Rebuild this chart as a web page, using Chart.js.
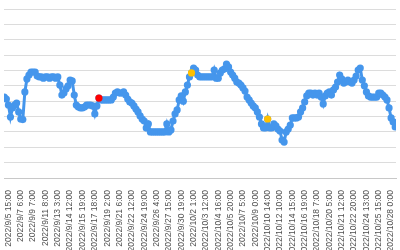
<!DOCTYPE html>
<html lang="en">
<head>
<meta charset="UTF-8">
<title>Chart</title>
<script src="https://cdn.jsdelivr.net/npm/chart.js"></script>
<style>
    html, body { margin: 0; padding: 0; background: #fff; }
    .chart-box { position: relative; width: 400px; height: 250px; }
</style>
</head>
<body>
<div class="chart-box"><canvas id="chart"></canvas></div>
<script>
// labels that are shown under the axis (one every 6 readings)
const tickLabels = [
    "2022/9/5 15:00", "2022/9/7 6:00", "2022/9/9 7:00", "2022/9/11 8:00",
    "2022/9/13 3:00", "2022/9/14 12:00", "2022/9/15 19:00", "2022/9/17 18:00",
    "2022/9/19 2:00", "2022/9/21 6:00", "2022/9/22 12:00", "2022/9/24 19:00",
    "2022/9/26 4:00", "2022/9/27 15:00", "2022/9/30 19:00", "2022/10/2 1:00",
    "2022/10/3 12:00", "2022/10/4 16:00", "2022/10/5 20:00", "2022/10/7 5:00",
    "2022/10/9 0:00", "2022/10/10 14:00", "2022/10/12 10:00", "2022/10/14 15:00",
    "2022/10/16 19:00", "2022/10/18 7:00", "2022/10/20 5:00", "2022/10/21 12:00",
    "2022/10/22 20:00", "2022/10/24 13:00", "2022/10/25 15:00", "2022/10/28 0:00"
];
const firstLabelAt = 2;
const labelEvery = 6;

// readings, in order
const values = [
    5.27, 5.14, 4.75, 3.97, 4.56, 4.75, 4.88, 4.30, 3.84, 3.80,
    5.60, 6.45, 6.70, 6.90, 6.90, 6.90, 6.64, 6.58, 6.58, 6.50,
    6.58, 6.58, 6.50, 6.58, 6.58, 6.50, 6.58, 6.05, 5.40, 5.53,
    5.80, 6.00, 6.38, 6.32, 5.40, 4.75, 4.62, 4.56, 4.56, 4.62,
    4.75, 4.75, 4.75, 4.69, 4.17, 4.69, 5.20, 5.08, 5.08, 5.08,
    5.08, 5.08, 5.08, 5.27, 5.53, 5.60, 5.53, 5.53, 5.60, 5.40,
    5.14, 4.95, 4.88, 4.69, 4.49, 4.30, 4.04, 3.84, 3.71, 3.26,
    3.52, 3.00, 3.00, 3.00, 3.00, 3.00, 3.00, 3.00, 3.00, 3.52,
    3.00, 3.13, 3.71, 4.17, 4.43, 5.08, 5.34, 5.00, 5.60, 6.05,
    6.58, 6.84, 7.16, 7.03, 6.70, 6.58, 6.58, 6.58, 6.58, 6.58,
    6.58, 6.58, 7.03, 6.50, 6.50, 6.84, 7.03, 7.10, 7.42, 7.23,
    6.90, 6.70, 6.50, 6.25, 6.18, 6.05, 5.86, 5.66, 5.27, 5.08,
    4.88, 4.69, 4.56, 4.30, 3.97, 3.52, 3.26, 3.26, 3.84, 3.26,
    3.26, 3.52, 3.39, 3.19, 3.06, 2.47, 2.34, 3.00, 3.19, 3.45,
    3.91, 3.91, 3.91, 3.97, 4.30, 4.56, 4.95, 5.34, 5.53, 5.53,
    5.40, 5.53, 5.40, 5.53, 5.27, 4.82, 5.34, 5.53, 5.60, 5.40,
    5.73, 5.92, 6.25, 6.70, 6.45, 6.18, 6.25, 6.38, 6.25, 6.18,
    6.38, 6.64, 7.03, 7.16, 6.38, 6.00, 5.60, 5.34, 5.27, 5.27,
    5.27, 5.27, 5.53, 5.53, 5.40, 5.27, 5.08, 4.56, 3.91, 3.65,
    3.32
];

// marked readings
const redPoints = [46];
const yellowPoints = [91, 128];

const blue = '#4596ec';
const marked = redPoints.concat(yellowPoints);

new Chart(document.getElementById('chart'), {
    type: 'line',
    data: {
        datasets: [{
            // highlighted readings, drawn above the line
            data: marked.map(i => ({ x: i, y: values[i] })),
            showLine: false,
            pointRadius: 3.6,
            pointBorderWidth: 0,
            pointBackgroundColor: marked.map(i => redPoints.includes(i) ? '#ff0000' : '#ffc000'),
            order: 0
        }, {
            data: values.map((v, i) => ({ x: i, y: v })),
            borderColor: blue,
            borderWidth: 3,
            pointRadius: 3.6,
            pointBorderWidth: 0,
            pointBackgroundColor: blue,
            tension: 0,
            order: 1
        }]
    },
    options: {
        responsive: true,
        maintainAspectRatio: false,
        animation: false,
        layout: { padding: { top: 9, left: 0, right: 0, bottom: 0 } },
        plugins: {
            legend: { display: false },
            tooltip: { enabled: false }
        },
        scales: {
            x: {
                type: 'linear',
                min: -0.14,
                max: 190.38,
                afterBuildTicks: function (axis) {
                    axis.ticks = tickLabels.map((t, j) => ({ value: firstLabelAt + labelEvery * j }));
                },
                afterFit: function (axis) {
                    axis.height = 72;
                    axis.paddingLeft = 0;
                    axis.paddingRight = 0;
                },
                grid: { display: false },
                border: { color: '#c8c8c8', width: 1 },
                ticks: {
                    autoSkip: false,
                    minRotation: 90,
                    maxRotation: 90,
                    padding: 4,
                    color: '#505050',
                    font: { family: 'Liberation Sans', size: 8.5 },
                    callback: function (value, index) {
                        return tickLabels[index];
                    }
                }
            },
            y: {
                min: 0,
                max: 11,
                afterFit: function (axis) {
                    axis.width = 0;
                },
                ticks: { display: false, stepSize: 1 },
                grid: { color: '#dcdcdc', drawTicks: false },
                border: { display: false }
            }
        }
    }
});
</script>
</body>
</html>
